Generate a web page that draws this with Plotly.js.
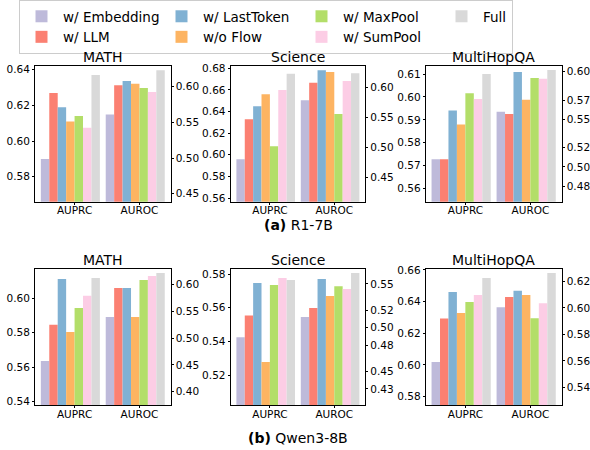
<!DOCTYPE html>
<html>
<head>
<meta charset="utf-8">
<script src="https://cdn.plot.ly/plotly-3.0.1.min.js"></script>
<style>html,body{margin:0;padding:0;background:#fff;}#chart{width:590px;height:450px;}</style>
</head>
<body>
<div id="chart"></div>
<script>
// ---- data ----
const seriesNames = ['w/ Embedding', 'w/ LLM', 'w/ LastToken', 'w/o Flow', 'w/ MaxPool', 'w/ SumPool', 'Full'];
const metricLabels = ['AUPRC', 'AUROC'];
const datasetTitles = ['MATH', 'Science', 'MultiHopQA'];
const modelCaptions = ['<b>(a)</b> R1-7B', '<b>(b)</b> Qwen3-8B'];

const r1MathAUPRC  = [0.590, 0.627, 0.619, 0.611, 0.614, 0.6075, 0.637];
const r1MathAUROC  = [0.561, 0.602, 0.608, 0.604, 0.598, 0.5925, 0.623];
const r1SciAUPRC   = [0.596, 0.633, 0.645, 0.656, 0.608, 0.660, 0.675];
const r1SciAUROC   = [0.578, 0.607, 0.628, 0.625, 0.555, 0.610, 0.623];
const r1MhqaAUPRC  = [0.5728, 0.5728, 0.5941, 0.588, 0.6016, 0.5991, 0.610];
const r1MhqaAUROC  = [0.5578, 0.5554, 0.5993, 0.5704, 0.593, 0.5923, 0.6014];
const qwMathAUPRC  = [0.5635, 0.5846, 0.6112, 0.5804, 0.5944, 0.6014, 0.6118];
const qwMathAUROC  = [0.539, 0.593, 0.593, 0.539, 0.608, 0.6155, 0.621];
const qwSciAUPRC   = [0.5424, 0.5554, 0.5747, 0.5277, 0.5735, 0.5776, 0.5764];
const qwSciAUROC   = [0.5123, 0.5226, 0.5557, 0.5362, 0.5473, 0.5442, 0.5626];
const qwMhqaAUPRC  = [0.6019, 0.6293, 0.6461, 0.6328, 0.6398, 0.6442, 0.6549];
const qwMhqaAUROC  = [0.6005, 0.6081, 0.6129, 0.6096, 0.5922, 0.6035, 0.6263];

// ---- styles / layout config ----
const colors = ['#bebada', '#fb8072', '#80b1d3', '#fdb462', '#b3de69', '#fccde5', '#d9d9d9'];
const legendRanks = [1, 5, 2, 6, 3, 7, 4];
const FONT = 'DejaVu Sans';
const W = 590, H = 450;
const colPx = [[35, 170.6], [230.6, 365.2], [425.7, 561.6]];
const rowPx = [[66, 201.7], [269, 405]];
const barW = 0.13;

const panels = [
  {auprc: r1MathAUPRC, auroc: r1MathAUROC, left: [0.566, 0.6421], right: [0.4388, 0.629], ldt: 0.02, rdt: 0.05},
  {auprc: r1SciAUPRC, auroc: r1SciAUROC, left: [0.5566, 0.6822], right: [0.4096, 0.6349], ldt: 0.02, rdt: 0.05},
  {auprc: r1MhqaAUPRC, auroc: r1MhqaAUROC, left: [0.5543, 0.6135], right: [0.4636, 0.6056], ldt: 0.01, rticks: [0.48, 0.50, 0.52, 0.55, 0.57, 0.60]},
  {auprc: qwMathAUPRC, auroc: qwMathAUROC, left: [0.538, 0.617], right: [0.3752, 0.6286], ldt: 0.02, rdt: 0.05},
  {auprc: qwSciAUPRC, auroc: qwSciAUROC, left: [0.5022, 0.583], right: [0.4117, 0.5671], ldt: 0.02, rticks: [0.43, 0.45, 0.48, 0.50, 0.52, 0.55]},
  {auprc: qwMhqaAUPRC, auroc: qwMhqaAUROC, left: [0.5747, 0.6606], right: [0.5267, 0.6293], ldt: 0.02, rdt: 0.02}
];

const traces = [];
const layout = {
  width: W, height: H,
  margin: {l: 0, r: 0, t: 0, b: 0},
  paper_bgcolor: '#ffffff', plot_bgcolor: '#ffffff',
  font: {family: FONT, size: 10.5, color: '#000'},
  barmode: 'overlay',
  showlegend: true,
  hovermode: false,
  legend: {
    orientation: 'h', x: 19 / W, y: 1, xanchor: 'left', yanchor: 'top',
    xref: 'paper', yref: 'paper',
    bordercolor: '#cccccc', borderwidth: 1, bgcolor: '#ffffff',
    font: {family: FONT, size: 13.5, color: '#000'},
    itemwidth: 33, entrywidth: 92, entrywidthmode: 'pixels', traceorder: 'normal'
  },
  annotations: []
};

const axisCommon = {
  showline: true, linecolor: '#000', linewidth: 1,
  ticks: 'outside', ticklen: 2, tickwidth: 1, tickcolor: '#000',
  showgrid: false, zeroline: false, fixedrange: true,
  tickfont: {family: FONT, size: 10.5, color: '#000'}
};

panels.forEach((p, k) => {
  const r = Math.floor(k / 3), c = k % 3;
  const xn = k + 1, yl = 2 * k + 1, yr = 2 * k + 2;
  const xKey = xn === 1 ? 'xaxis' : 'xaxis' + xn;
  const ylKey = yl === 1 ? 'yaxis' : 'yaxis' + yl;
  const yrKey = 'yaxis' + yr;
  const xId = xn === 1 ? 'x' : 'x' + xn;
  const ylId = yl === 1 ? 'y' : 'y' + yl;
  const yrId = 'y' + yr;
  const xd = [colPx[c][0] / W, colPx[c][1] / W];
  const yd = [1 - rowPx[r][1] / H, 1 - rowPx[r][0] / H];

  layout[xKey] = Object.assign({}, axisCommon, {
    domain: xd, anchor: ylId, type: 'category',
    categoryorder: 'array', categoryarray: metricLabels,
    range: [-0.61, 1.48], mirror: true, ticklabelstandoff: -3
  });
  layout[ylKey] = Object.assign({}, axisCommon, {
    domain: yd, anchor: xId, range: p.left, dtick: p.ldt, tick0: 0,
    tickformat: '.2f', side: 'left'
  });
  const right = Object.assign({}, axisCommon, {
    domain: yd, anchor: xId, overlaying: ylId, side: 'right',
    range: p.right, tickformat: '.2f'
  });
  if (p.rticks) { right.tickmode = 'array'; right.tickvals = p.rticks; }
  else { right.dtick = p.rdt; right.tick0 = 0; }
  layout[yrKey] = right;

  seriesNames.forEach((name, i) => {
    const t = {
      type: 'bar', name: name, x: [metricLabels[0]], y: [p.auprc[i]],
      xaxis: xId, yaxis: ylId, offset: (i - 4) * barW, width: barW,
      marker: {color: colors[i], line: {width: 0}},
      showlegend: k === 0, legendrank: legendRanks[i]
    };
    if (i === seriesNames.length - 1) t.legendwidth = 24;
    traces.push(t);
    traces.push({
      type: 'bar', name: name, x: [metricLabels[1]], y: [p.auroc[i]],
      xaxis: xId, yaxis: yrId, offset: (i - 4) * barW, width: barW,
      marker: {color: colors[i], line: {width: 0}},
      showlegend: false
    });
  });

  layout.annotations.push({
    text: datasetTitles[c], xref: xId + ' domain', yref: ylId + ' domain',
    x: 0.5, y: 1, xanchor: 'center', yanchor: 'bottom', showarrow: false,
    font: {family: FONT, size: 14, color: '#000'}, yshift: -1
  });
});

layout.annotations.push({
  text: modelCaptions[0], xref: 'paper', yref: 'paper', x: 298 / W, y: 1 - 225 / H,
  xanchor: 'center', yanchor: 'middle', showarrow: false,
  font: {family: FONT, size: 14, color: '#000'}
});
layout.annotations.push({
  text: modelCaptions[1], xref: 'paper', yref: 'paper', x: 298 / W, y: 1 - 437.5 / H,
  xanchor: 'center', yanchor: 'middle', showarrow: false,
  font: {family: FONT, size: 14, color: '#000'}
});

Plotly.newPlot('chart', traces, layout, {displayModeBar: false, staticPlot: true});
</script>
</body>
</html>
